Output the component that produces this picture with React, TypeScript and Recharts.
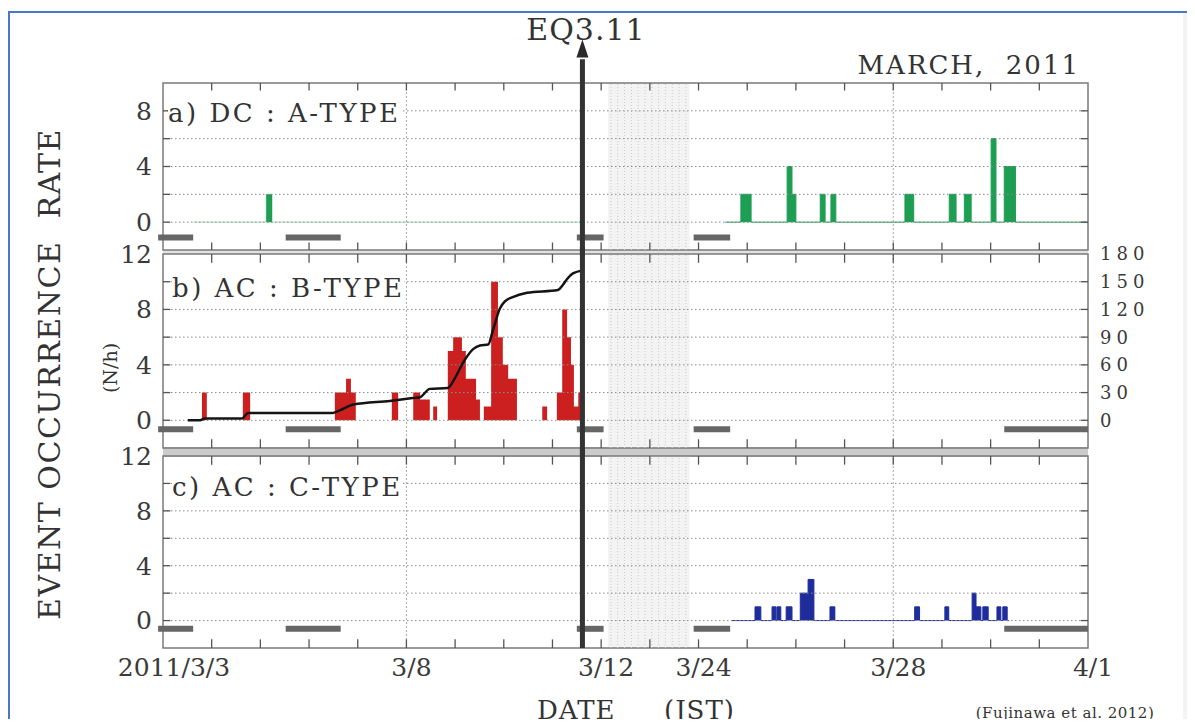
import React from "react";
import {
  ComposedChart,
  XAxis,
  YAxis,
  Area,
  Line,
  ReferenceLine,
  ReferenceArea,
  ReferenceDot,
} from "recharts";

const SERIF = '"DejaVu Serif", "Liberation Serif", serif';
const INK = "#333";

// x positions are days of March (32 = 4/1); 3/12 - 3/24 is squeezed into two ticks
const toAxis = (d: number) => (d <= 12 ? d - 3 : d >= 24 ? d - 13 : 9 + (d - 12) / 6);

const dateTickDays = [3, 8, 12, 24, 28, 32];
const dateTickLabels = ["2011/3/3", "3/8", "3/12", "3/24", "3/28", "4/1"];
const minorTickDays = [4, 5, 6, 7, 8, 9, 10, 11, 12, 18, 24, 25, 26, 27, 28, 29, 30, 31];
const gridDays = [8, 28];
const eqDay = 11 + (14 + 46 / 60) / 24; // 3/11 14:46
const hatchFrom = 12.84;
const hatchTo = 22.9;

// no-data periods (grey bars under the zero line)
const gapStart = [3.0, 5.62, 11.6, 24.0, 30.38];
const gapEnd = [3.62, 6.65, 12.3, 24.65, 32.0];

// a) DC : A-TYPE  (events per hour)
const aBinStart = [5.12, 24.87, 25.82, 25.92, 26.5, 26.72, 28.24, 29.15, 29.46, 30.01, 30.28];
const aBinEnd = [5.24, 25.08, 25.92, 26.0, 26.6, 26.82, 28.42, 29.29, 29.6, 30.11, 30.51];
const aRate = [2, 2, 4, 2, 2, 2, 2, 2, 2, 6, 4];

// b) AC : B-TYPE
const bBinStart = [3.8, 4.64, 6.53, 6.76, 6.86, 7.7, 8.14, 8.28, 8.55, 8.85, 8.96, 9.14, 9.22, 9.43, 9.59, 9.74, 9.88, 9.98, 10.09, 10.79, 11.09, 11.2, 11.3, 11.38, 11.44, 11.53, 11.59];
const bBinEnd = [3.9, 4.79, 6.76, 6.86, 6.96, 7.83, 8.28, 8.48, 8.63, 8.96, 9.14, 9.22, 9.43, 9.51, 9.74, 9.88, 9.98, 10.09, 10.27, 10.89, 11.2, 11.3, 11.38, 11.44, 11.53, 11.59, 11.65];
const bRate = [2, 2, 2, 3, 2, 2, 2, 1.5, 1, 5, 6, 5, 3, 1.5, 1, 10, 6, 4, 3, 1, 2, 8, 6, 4, 1, 2, 5];
// cumulative number of B-type events (right axis)
const bCumDay = [3.51, 3.76, 3.86, 4.62, 4.75, 6.49, 6.64, 6.91, 7.66, 8.13, 8.28, 8.48, 8.85, 9.0, 9.16, 9.37, 9.51, 9.68, 9.78, 9.92, 10.03, 10.17, 10.48, 11.11, 11.22, 11.3, 11.42, 11.62];
const bCumCount = [0, 0, 2, 2, 8, 8, 11, 17, 21, 24, 25, 34, 35, 46, 62, 77, 81, 82, 98, 121, 129, 133, 138, 141, 147, 153, 159, 162];

// c) AC : C-TYPE
const cBinStart = [25.16, 25.51, 25.61, 25.8, 26.09, 26.25, 26.7, 28.44, 29.06, 29.62, 29.7, 29.84, 30.13, 30.25];
const cBinEnd = [25.28, 25.59, 25.69, 25.92, 26.25, 26.37, 26.8, 28.54, 29.14, 29.7, 29.8, 29.95, 30.21, 30.34];
const cRate = [1, 1, 1, 1, 2, 3, 1, 1, 1, 2, 1, 1, 1, 1];

const cumTicks = [0, 30, 60, 90, 120, 150, 180];

type StepPt = { x: number; v: number };

function stepSeries(starts: number[], ends: number[], rates: number[], from: number, to: number): StepPt[] {
  const pts: StepPt[] = [{ x: toAxis(from), v: 0 }];
  starts.forEach((s, i) => {
    if (s < from || s >= to) return;
    pts.push({ x: toAxis(s), v: rates[i] }, { x: toAxis(ends[i]), v: 0 });
  });
  pts.push({ x: toAxis(to), v: 0 });
  return pts;
}

const cumData = bCumDay.map((d, i) => ({ x: toAxis(d), c: bCumCount[i] }));
const hatchLines = Array.from({ length: 12 }, (_, i) => 9.2 + i * 0.14);

const arrowHead = (p: any) => (
  <polygon
    points={`${p.cx},${p.cy - 10} ${p.cx - 6},${p.cy + 8} ${p.cx + 6},${p.cy + 8}`}
    fill="#2a2a2a"
  />
);

// frame, grid, hatched break, no-data bars and tick marks of one panel
function decor(id: string, lo: number, hi: number, grid: number[], gapLevel: number, gapCount: number) {
  const tk = (hi - lo) * 0.045;
  return [
    <ReferenceArea key={id + "h"} x1={toAxis(hatchFrom)} x2={toAxis(hatchTo)} y1={lo} y2={hi} fill="#f3f3f3" fillOpacity={1} stroke="none" />,
    ...hatchLines.map((x, i) => (
      <ReferenceLine key={id + "hl" + i} x={x} stroke="#cbcbcb" strokeDasharray="1 2" />
    )),
    ...grid.map((v) => (
      <ReferenceLine key={id + "g" + v} y={v} stroke="#8a8a8a" strokeDasharray="1.5 2.5" />
    )),
    ...gridDays.map((d) => (
      <ReferenceLine key={id + "v" + d} x={toAxis(d)} stroke="#a8a8a8" strokeDasharray="2 2" />
    )),
    ...minorTickDays.map((d) => (
      <ReferenceLine key={id + "tt" + d} segment={[{ x: toAxis(d), y: hi }, { x: toAxis(d), y: hi - tk }]} stroke="#555" strokeWidth={1.3} />
    )),
    ...minorTickDays.map((d) => (
      <ReferenceLine key={id + "tb" + d} segment={[{ x: toAxis(d), y: lo }, { x: toAxis(d), y: lo + tk }]} stroke="#555" strokeWidth={1.3} />
    )),
    ...grid.map((v) => (
      <ReferenceLine key={id + "yl" + v} segment={[{ x: 0, y: v }, { x: 0.15, y: v }]} stroke="#555" strokeWidth={1.3} />
    )),
    ...grid.map((v) => (
      <ReferenceLine key={id + "yr" + v} segment={[{ x: 18.85, y: v }, { x: 19, y: v }]} stroke="#555" strokeWidth={1.3} />
    )),
    ...gapStart.slice(0, gapCount).map((s, i) => (
      <ReferenceLine
        key={id + "nd" + i}
        segment={[{ x: toAxis(s) - 0.1, y: gapLevel }, { x: toAxis(gapEnd[i]), y: gapLevel }]}
        stroke="#666"
        strokeWidth={6}
        ifOverflow="visible"
      />
    )),
    <ReferenceArea key={id + "f"} x1={0} x2={19} y1={lo} y2={hi} fill="none" stroke="#7a7a7a" strokeWidth={1.5} />,
  ];
}

const eqLine = (id: string, y1: number, y2: number) => (
  <ReferenceLine
    key={id + "eq"}
    segment={[{ x: toAxis(eqDay), y: y1 }, { x: toAxis(eqDay), y: y2 }]}
    stroke="#333"
    strokeWidth={5}
    ifOverflow="visible"
  />
);

const leftTick = { fontFamily: SERIF, fontSize: 25, fill: "#3a3a3a" };

const DateTick = (p: any) => {
  const i = dateTickDays.map(toAxis).indexOf(p.payload.value);
  return (
    <text x={p.x + (i === 0 ? 11 : 5)} y={p.y} dy="0.71em" textAnchor="middle" fontFamily={SERIF} fontSize={25} fill="#3a3a3a">
      {dateTickLabels[i] ?? ""}
    </text>
  );
};

const txt = (s: React.CSSProperties): React.CSSProperties => ({
  position: "absolute",
  fontFamily: SERIF,
  color: INK,
  whiteSpace: "pre",
  lineHeight: 1,
  ...s,
});

export default function App() {
  return (
    <div style={{ position: "relative", width: 1195, height: 727, margin: -8, overflow: "hidden", background: "#fff" }}>
      {/* page frame */}
      <div style={{ position: "absolute", left: 8, top: 11, width: 1200, height: 730, border: "2px solid #4a78c8" }} />
      <div style={{ position: "absolute", left: 664, top: -10, width: 600, height: 12, border: "2px solid #4a78c8" }} />
      <div style={{ position: "absolute", left: 1183, top: 13, width: 12, height: 714, background: "#f3f3f3" }} />
      {/* separators between panels */}
      <div style={{ position: "absolute", left: 163, top: 250, width: 925, height: 4, background: "#e2e2e2" }} />
      <div style={{ position: "absolute", left: 163, top: 447, width: 925, height: 10, background: "#cbcbcb" }} />

      {/* a) DC : A-TYPE */}
      <div style={{ position: "absolute", left: 0, top: 0 }}>
        <ComposedChart width={1195} height={262} margin={{ top: 83, right: 107, bottom: 12, left: 0 }}>
          <XAxis dataKey="x" type="number" domain={[0, 19]} hide allowDataOverflow />
          <YAxis type="number" domain={[-2, 10]} ticks={[0, 4, 8]} interval={0} width={163} tick={leftTick} tickLine={false} axisLine={false} tickMargin={5} allowDataOverflow />
          {decor("a", -2, 10, [0, 2, 4, 6, 8], -1.1, 4)}
          <Area data={stepSeries(aBinStart, aBinEnd, aRate, 3.62, 11.6)} dataKey="v" type="stepAfter" baseValue={0} stroke="#1e9e52" strokeOpacity={0.35} strokeWidth={1} fill="#1e9e52" fillOpacity={1} dot={false} activeDot={false} isAnimationActive={false} />
          <Area data={stepSeries(aBinStart, aBinEnd, aRate, 24.55, 32)} dataKey="v" type="stepAfter" baseValue={0} stroke="#1e9e52" strokeWidth={1} fill="#1e9e52" fillOpacity={1} dot={false} activeDot={false} isAnimationActive={false} />
          {eqLine("a", -2.4, 11.7)}
          <ReferenceDot x={toAxis(eqDay)} y={12.4} r={6} shape={arrowHead} ifOverflow="visible" />
        </ComposedChart>
      </div>

      {/* b) AC : B-TYPE */}
      <div style={{ position: "absolute", left: 0, top: 234 }}>
        <ComposedChart width={1195} height={224} margin={{ top: 20, right: 0, bottom: 10, left: 0 }}>
          <XAxis dataKey="x" type="number" domain={[0, 19]} hide allowDataOverflow />
          <YAxis type="number" domain={[-2, 12]} ticks={[0, 4, 8, 12]} interval={0} width={163} tick={leftTick} tickLine={false} axisLine={false} tickMargin={5} allowDataOverflow />
          <YAxis yAxisId="r" orientation="right" type="number" domain={[-30, 180]} ticks={cumTicks} interval={0} width={107} tick={{ fontFamily: SERIF, fontSize: 18, fill: "#3a3a3a", letterSpacing: 5 }} tickLine={false} axisLine={false} tickMargin={6} allowDataOverflow />
          {decor("b", -2, 12, [0, 2, 4, 6, 8, 10], -0.65, 5)}
          <Area data={stepSeries(bBinStart, bBinEnd, bRate, 3.5, 11.66)} dataKey="v" type="stepAfter" baseValue={0} stroke="none" fill="#cc2020" fillOpacity={1} dot={false} activeDot={false} isAnimationActive={false} />
          <Line data={cumData} yAxisId="r" dataKey="c" type="monotone" stroke="#141414" strokeWidth={2.5} dot={false} activeDot={false} isAnimationActive={false} />
          {eqLine("b", -2.6, 12.5)}
        </ComposedChart>
      </div>

      {/* c) AC : C-TYPE */}
      <div style={{ position: "absolute", left: 0, top: 436 }}>
        <ComposedChart width={1195} height={272} margin={{ top: 20, right: 107, bottom: 0, left: 0 }}>
          <XAxis dataKey="x" type="number" domain={[0, 19]} ticks={dateTickDays.map(toAxis)} interval={0} height={60} tick={<DateTick />} tickLine={false} axisLine={false} tickMargin={4} allowDataOverflow />
          <YAxis type="number" domain={[-2, 12]} ticks={[0, 4, 8, 12]} interval={0} width={163} tick={leftTick} tickLine={false} axisLine={false} tickMargin={5} allowDataOverflow />
          {decor("c", -2, 12, [0, 2, 4, 6, 8, 10], -0.6, 5)}
          <Area data={stepSeries(cBinStart, cBinEnd, cRate, 24.67, 30.38)} dataKey="v" type="stepAfter" baseValue={0} stroke="#1f2d9c" strokeWidth={1} fill="#1f2d9c" fillOpacity={1} dot={false} activeDot={false} isAnimationActive={false} />
          {eqLine("c", -2, 12.6)}
        </ComposedChart>
      </div>

      {/* panel titles */}
      <div style={txt({ left: 168, top: 100, fontSize: 26, letterSpacing: 2.5, background: "#fff" })}>a) DC : A-TYPE</div>
      <div style={txt({ left: 172, top: 275, fontSize: 26, letterSpacing: 2.5, background: "#fff" })}>b) AC : B-TYPE</div>
      <div style={txt({ left: 172, top: 474, fontSize: 26, letterSpacing: 2.5, background: "#fff" })}>c) AC : C-TYPE</div>

      <div style={txt({ left: 586, top: 30, fontSize: 30, letterSpacing: 1, transform: "translate(-50%, -50%)" })}>EQ3.11</div>
      <div style={txt({ left: 1080, top: 65, fontSize: 26, letterSpacing: 2, transform: "translate(-100%, -50%)" })}>MARCH,  2011</div>

      <div style={txt({ left: 50, top: 374, fontSize: 30, letterSpacing: 1.5, transform: "translate(-50%, -50%) rotate(-90deg)" })}>EVENT OCCURRENCE  RATE</div>
      <div style={txt({ left: 110, top: 368, fontSize: 19, transform: "translate(-50%, -50%) rotate(-90deg)" })}>(N/h)</div>

      <div style={txt({ left: 537, top: 697, fontSize: 26, letterSpacing: 1 })}>DATE</div>
      <div style={txt({ left: 664, top: 697, fontSize: 26, letterSpacing: 1 })}>(JST)</div>
      <div style={txt({ left: 1065, top: 713, fontSize: 15, letterSpacing: 0.5, transform: "translate(-50%, -50%)" })}>(Fujinawa et al. 2012)</div>
    </div>
  );
}
